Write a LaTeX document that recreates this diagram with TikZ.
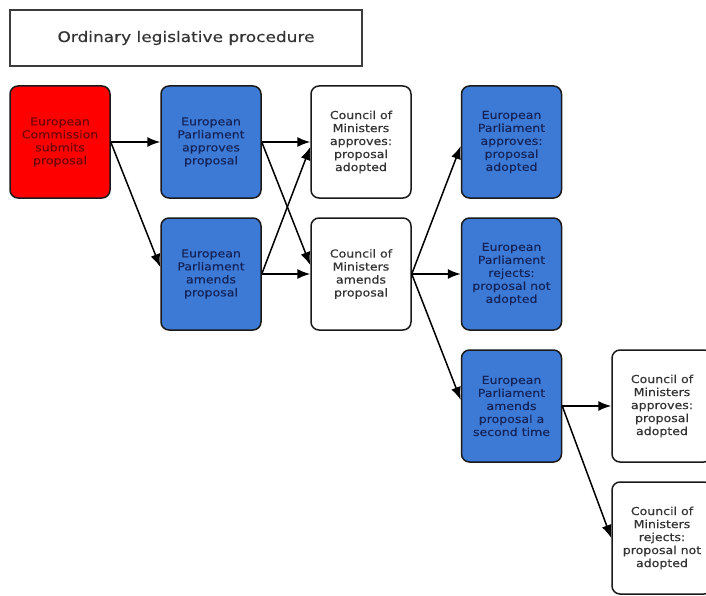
\documentclass[tikz,border=0pt]{standalone}
\usepackage{fontspec}
\usetikzlibrary{arrows.meta}
\newfontfamily\boxfont[FakeStretch=1.14,FakeBold=0.35]{DejaVu Sans}
\newfontfamily\titlefont[FakeStretch=1.17,FakeBold=0.25]{DejaVu Sans}
\definecolor{redfill}{HTML}{FF0000}
\definecolor{redtext}{HTML}{6E0808}
\definecolor{bluefill}{HTML}{3D7AD6}
\definecolor{bluetext}{HTML}{14245A}
\definecolor{graytext}{HTML}{333333}
\definecolor{edgecol}{HTML}{1A1A1A}
\tikzset{
  stagebox/.style={rectangle, rounded corners=8pt, draw=edgecol, line width=1.5pt,
    minimum width=100pt, minimum height=112pt, inner sep=0pt, align=center,
    font=\boxfont\fontsize{11pt}{13pt}\selectfont},
  redbox/.style={stagebox, fill=redfill, text=redtext},
  bluebox/.style={stagebox, fill=bluefill, text=bluetext},
  whitebox/.style={stagebox, fill=white, text=graytext},
  titlebox/.style={rectangle, draw=edgecol!85, line width=1.6pt, fill=white,
    minimum width=352pt, minimum height=56pt, inner sep=0pt, text=graytext,
    font=\titlefont\fontsize{14.5pt}{17pt}\selectfont},
  flow/.style={line width=1.5pt, draw=black, -{Latex[length=13pt,width=10pt]}}
}
\begin{document}
\begin{tikzpicture}[x=1pt,y=-1pt]
\useasboundingbox (0,0) rectangle (706,596);
\fill[white] (0,0) rectangle (706,596);
\node[titlebox] (title) at (186,38) {Ordinary legislative procedure};
\node[redbox] (ec) at (60,142) {European\\Commission\\submits\\proposal};
\node[bluebox] (epa) at (211,142) {European\\Parliament\\approves\\proposal};
\node[bluebox] (epm) at (211,274) {European\\Parliament\\amends\\proposal};
\node[whitebox] (coma) at (361,142) {Council of\\Ministers\\approves:\\proposal\\adopted};
\node[whitebox] (comm) at (361,274) {Council of\\Ministers\\amends\\proposal};
\node[bluebox] (ep2a) at (511.5,142) {European\\Parliament\\approves:\\proposal\\adopted};
\node[bluebox] (ep2r) at (511.5,274) {European\\Parliament\\rejects:\\proposal not\\adopted};
\node[bluebox] (ep2m) at (511.5,406) {European\\Parliament\\amends\\proposal a\\second time};
\node[whitebox] (com3a) at (662,406) {Council of\\Ministers\\approves:\\proposal\\adopted};
\node[whitebox] (com3r) at (662,538) {Council of\\Ministers\\rejects:\\proposal not\\adopted};
\draw[flow] (ec.east) -- (epa.west);
\draw[flow] (ec.east) -- ([yshift=7pt]epm.west);
\draw[flow] (epa.east) -- (coma.west);
\draw[flow] (epa.east) -- ([yshift=9pt]comm.west);
\draw[flow] (epm.east) -- ([yshift=-5pt]coma.west);
\draw[flow] (epm.east) -- (comm.west);
\draw[flow] (comm.east) -- ([yshift=-4pt]ep2a.west);
\draw[flow] (comm.east) -- (ep2r.west);
\draw[flow] (comm.east) -- ([yshift=6pt]ep2m.west);
\draw[flow] (ep2m.east) -- (com3a.west);
\draw[flow] (ep2m.east) -- (com3r.west);
\end{tikzpicture}
\end{document}
